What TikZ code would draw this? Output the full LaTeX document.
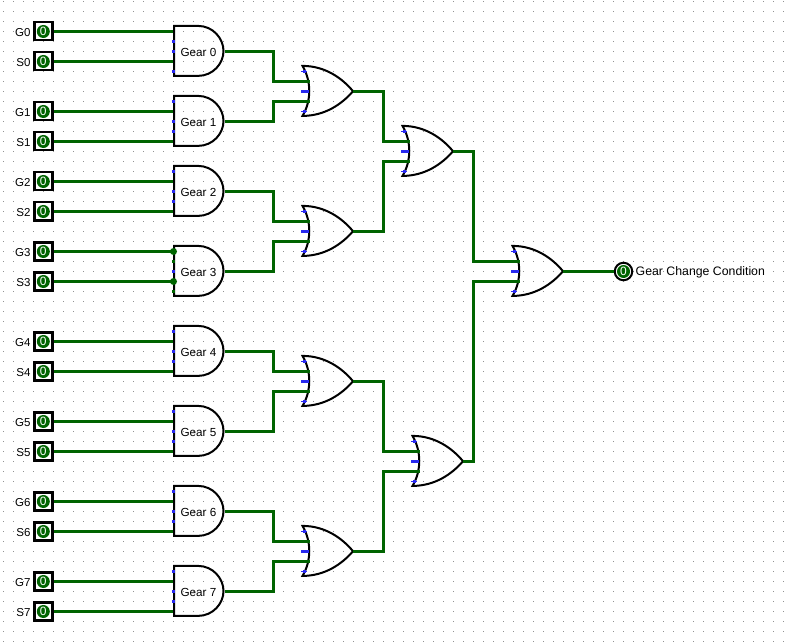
\documentclass[tikz,border=0pt]{standalone}
\usepackage{fontspec}
\setmainfont{Liberation Sans}
\tikzset{
  x=1pt,y=-1pt,
  wire/.style={draw=wiregreen,line width=3.1pt,line cap=butt,line join=miter},
  gate/.style={draw=black,line width=2pt,fill=none,line join=miter},
  pinbox/.style={draw=black,line width=2.4pt,fill=white,minimum size=18pt,inner sep=0pt,outer sep=1.2pt},
  lamp/.style={circle,fill=wiregreen,minimum size=13pt,inner sep=0pt,text=white,font=\fontsize{12}{12}\selectfont},
  ring/.style={circle,draw=black,line width=2pt,fill=white,minimum size=17.5pt,inner sep=0pt,outer sep=1pt},
  txt/.style={inner sep=0pt,font=\fontsize{11.7}{12}\selectfont,text=black},
  pintxt/.style={inner sep=0pt,font=\fontsize{11.5}{12}\selectfont,text=black},
  outtxt/.style={inner sep=0pt,font=\fontsize{12.3}{12}\selectfont,text=black},
  bluepin/.style={draw=pinblue,line width=1.6pt},
  midpin/.style={draw=pinblue,line width=3pt},
  portdot/.style={fill=pinblue},
}
\definecolor{wiregreen}{RGB}{0,100,0}
\definecolor{pinblue}{RGB}{40,40,240}
\definecolor{griddot}{RGB}{145,145,145}
% \inpin{name}{y}
\newcommand{\inpin}[2]{%
  \node[pinbox] (#1) at (43.3,#2-0.2) {};
  \node[lamp] at (43.3,#2) {0};
  \node[pintxt,anchor=east] (#1l) at (30.7,#2+0.7) {#1};
}
% \andg{name}{cy}{label}
\newcommand{\andg}[3]{%
  \draw[gate] (174,#2-25.6) -- (198,#2-25.6) .. controls (213,#2-25.6) and (223.5,#2-13) .. (223.5,#2-0.5) .. controls (223.5,#2+12) and (213,#2+24.4) .. (198,#2+24.4) -- (174,#2+24.4) -- cycle;
  \node[txt] (#1) at (198.5,#2+0.6) {#3};
  \coordinate (#1o) at (224.5,#2);
}
% \org{name}{cy}{leftx}
\newcommand{\org}[3]{%
  \draw[gate] (#3-0.5,#2-25.6) .. controls (#3+22,#2-25.6) and (#3+39,#2-13.5) .. (#3+50,#2-0.3) .. controls (#3+39,#2+12.5) and (#3+22,#2+24.4) .. (#3-0.5,#2+24.4) .. controls (#3+8.5,#2+9.5) and (#3+8.5,#2-10.5) .. (#3-0.5,#2-25.6) -- cycle;
  \draw[bluepin] (#3-2,#2-20) -- (#3+3.5,#2-20);
  \draw[bluepin] (#3-2,#2+20) -- (#3+3.5,#2+20);
  \draw[midpin] (#3-2,#2) -- (#3+6,#2);
  \fill[portdot] (#3-0.5,#2-21.5) rectangle ++(3,3);
  \fill[portdot] (#3-0.5,#2+18.5) rectangle ++(3,3);
  \coordinate (#1a) at (#3+6.5,#2-10);
  \coordinate (#1b) at (#3+6.5,#2+10);
  \coordinate (#1o) at (#3+50,#2);
}
\newcommand{\bdot}[1]{\fill[portdot] (172,#1-1.5) rectangle ++(3,3);}
\begin{document}
\begin{tikzpicture}
\useasboundingbox (0,0) rectangle (791,644);
\fill[white] (0,0) rectangle (791,644);
\begin{scope}[yshift=-0.5pt]
\foreach \i in {0,...,78}{\foreach \j in {0,...,64}{%
  \fill[griddot] (3+10*\i,1+10*\j-0.5) rectangle ++(1,1);}}
\coordinate (c1) at (273.5,0);
\coordinate (c2) at (383.5,0);
\coordinate (c3) at (473.5,0);
\coordinate (gl) at (174,0);
% inputs
\inpin{G0}{31}\inpin{S0}{61}\inpin{G1}{111}\inpin{S1}{141}
\inpin{G2}{181}\inpin{S2}{211}\inpin{G3}{251}\inpin{S3}{281}
\inpin{G4}{341}\inpin{S4}{371}\inpin{G5}{421}\inpin{S5}{451}
\inpin{G6}{501}\inpin{S6}{531}\inpin{G7}{581}\inpin{S7}{611}
% input wires
\foreach \n/\m in {G0/A0,S0/A0,G1/A1,S1/A1,G2/A2,S2/A2,G3/A3,S3/A3,G4/A4,S4/A4,G5/A5,S5/A5,G6/A6,S6/A6,G7/A7,S7/A7}{%
  \draw[wire] ([yshift=-0.2pt]\n.east) -- ([yshift=-0.2pt]\n.east -| gl);}
% AND gates
\andg{A0}{51}{Gear 0}\andg{A1}{121}{Gear 1}\andg{A2}{191}{Gear 2}\andg{A3}{271}{Gear 3}
\andg{A4}{351}{Gear 4}\andg{A5}{431}{Gear 5}\andg{A6}{511}{Gear 6}\andg{A7}{591}{Gear 7}
\foreach \y in {41,51,71,101,121,131,171,191,201,271,331,351,361,411,431,441,491,511,521,571,591,601}{\bdot{\y}}
% gear 3 junctions
\fill[wiregreen] (173.5,251) circle (3.5);
\fill[wiregreen] (173.5,281) circle (3.5);
\fill[wiregreen] (172,259.5) rectangle ++(3,3);
\fill[wiregreen] (172,289.5) rectangle ++(3,3);
% OR gates
\org{O0}{91}{303}\org{O1}{231}{303}\org{O2}{381}{303}\org{O3}{551}{303}
\org{P0}{151}{403}\org{P1}{461}{413}
\org{Q0}{271}{513}
% output
\node[ring] (out) at (623.5,271) {};
\node[lamp,minimum size=13pt] at (623.5,271) {0};
\node[outtxt,anchor=west] (outl) at (635.5,272) {Gear Change Condition};
% connectors
\draw[wire] (A0o) -- (A0o -| c1) -- (O0a -| c1) -- (O0a);
\draw[wire] (A1o) -- (A1o -| c1) -- (O0b -| c1) -- (O0b);
\draw[wire] (A2o) -- (A2o -| c1) -- (O1a -| c1) -- (O1a);
\draw[wire] (A3o) -- (A3o -| c1) -- (O1b -| c1) -- (O1b);
\draw[wire] (A4o) -- (A4o -| c1) -- (O2a -| c1) -- (O2a);
\draw[wire] (A5o) -- (A5o -| c1) -- (O2b -| c1) -- (O2b);
\draw[wire] (A6o) -- (A6o -| c1) -- (O3a -| c1) -- (O3a);
\draw[wire] (A7o) -- (A7o -| c1) -- (O3b -| c1) -- (O3b);
\draw[wire] (O0o) -- (O0o -| c2) -- (P0a -| c2) -- (P0a);
\draw[wire] (O1o) -- (O1o -| c2) -- (P0b -| c2) -- (P0b);
\draw[wire] (O2o) -- (O2o -| c2) -- (P1a -| c2) -- (P1a);
\draw[wire] (O3o) -- (O3o -| c2) -- (P1b -| c2) -- (P1b);
\draw[wire] (P0o) -- (P0o -| c3) -- (Q0a -| c3) -- (Q0a);
\draw[wire] (P1o) -- (P1o -| c3) -- (Q0b -| c3) -- (Q0b);
\draw[wire] (Q0o) -- (out.west);
\end{scope}
\end{tikzpicture}
\end{document}
